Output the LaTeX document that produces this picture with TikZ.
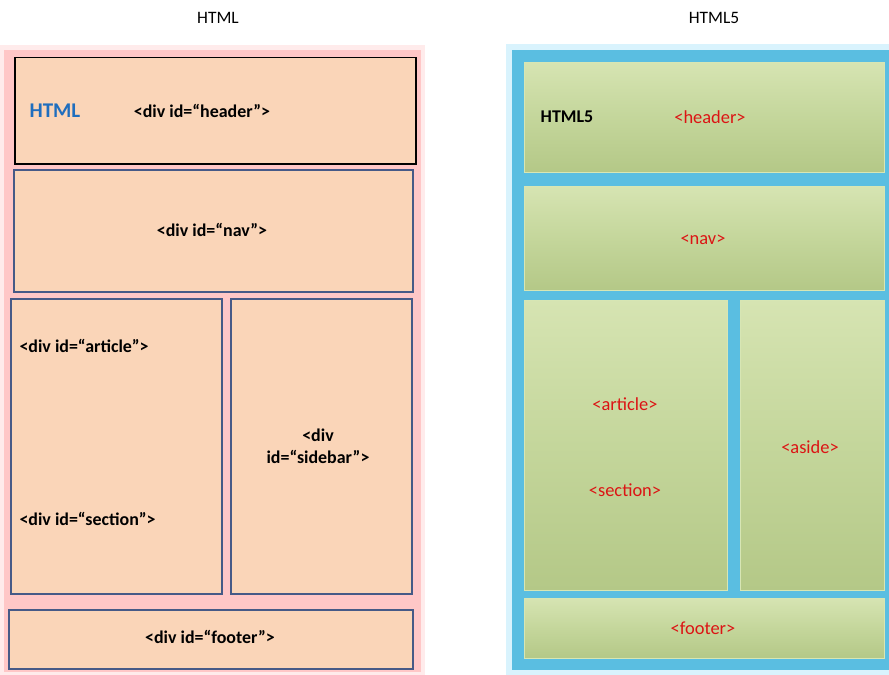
\documentclass[tikz,border=0pt]{standalone}
\usepackage{fontspec}
\setmainfont{Carlito}
\definecolor{peach}{RGB}{250,213,184}
\definecolor{gtop}{RGB}{214,228,178}
\definecolor{gmid}{RGB}{196,214,155}
\definecolor{gbot}{RGB}{180,200,135}
\definecolor{gedge}{RGB}{215,230,180}
\definecolor{rred}{RGB}{220,20,20}
\definecolor{hblue}{RGB}{31,110,190}
\definecolor{glowblue}{RGB}{90,190,225}
\definecolor{slate}{RGB}{70,90,135}
\begin{document}
\begin{tikzpicture}[x=1bp,y=-1bp,
  lbox/.style={draw=slate,line width=1.5bp,fill=peach},
  rbox/.style={draw=gedge,line width=1bp,top color=gtop,bottom color=gbot,middle color=gmid},
  lt/.style={font=\fontsize{18}{22}\selectfont\bfseries},
  rt/.style={font=\fontsize{18.5}{22}\selectfont,text=rred},
  tt/.style={font=\fontsize{17.5}{20}\selectfont}]
\useasboundingbox (0,0) rectangle (889,675);
\fill[white] (0,0) rectangle (889,675);
% left glow
\fill[red!8] (0,45) rectangle (425,675);
\fill[red!22] (4,50) rectangle (421,672);
\node[lbox,draw=black,minimum width=401bp,minimum height=106bp,anchor=north west] (lh) at (14,57) {};
\node[lbox,minimum width=399bp,minimum height=122bp,anchor=north west] (ln) at (13,169) {};
\node[lbox,minimum width=211bp,minimum height=295bp,anchor=north west] (la) at (10,298) {};
\node[lbox,minimum width=181bp,minimum height=295bp,anchor=north west] (ls) at (230,298) {};
\node[lbox,minimum width=404bp,minimum height=59bp,anchor=north west] (lf) at (8,609) {};
\node[lt,text=hblue,font=\fontsize{21}{24}\selectfont\bfseries] (t1) at (55,111) {HTML};
\node[lt] (t2) at (202,111) {<div id=“header”>};
\node[lt] (t3) at (212,230) {<div id=“nav”>};
\node[lt,anchor=west] (t4) at (16,346) {<div id=“article”>};
\node[lt,anchor=west] (t5) at (16,519) {<div id=“section”>};
\node[lt,align=center] (t6) at (318,446) {<div\\id=“sidebar”>};
\node[lt] (t7) at (210,637) {<div id=“footer”>};
% right glow
\fill[cyan!15] (506,44) rectangle (889,675);
\fill[glowblue] (512,50) rectangle (889,670);
\node[rbox,minimum width=360bp,minimum height=110bp,anchor=north west] (rh) at (524,62) {};
\node[rbox,minimum width=360bp,minimum height=104bp,anchor=north west] (rn) at (524,186) {};
\node[rbox,minimum width=203bp,minimum height=290bp,anchor=north west] (ra) at (524,300) {};
\node[rbox,minimum width=144bp,minimum height=290bp,anchor=north west] (rs) at (740,300) {};
\node[rbox,minimum width=360bp,minimum height=60bp,anchor=north west] (rf) at (524,598) {};
\node[lt] (u1) at (567,117) {HTML5};
\node[rt] (u2) at (710,117) {<header>};
\node[rt] (u3) at (703,240) {<nav>};
\node[rt] (u4) at (625,404) {<article>};
\node[rt] (u5) at (625,490) {<section>};
\node[rt] (u6) at (810,447) {<aside>};
\node[rt] (u7) at (703,628) {<footer>};
\node[tt] (h1) at (218,18) {HTML};
\node[tt] (h2) at (714,18) {HTML5};
\end{tikzpicture}
\end{document}
